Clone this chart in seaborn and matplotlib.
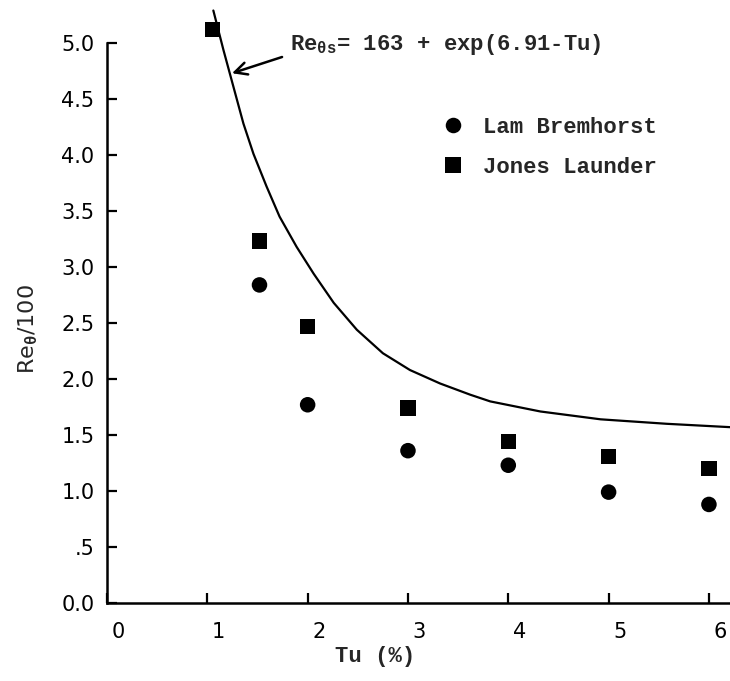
import matplotlib
matplotlib.use("Agg")
import matplotlib.pyplot as plt
import matplotlib.transforms as mtransforms
import seaborn as sns
import pandas as pd

# ---- data ----
lam_tu = [1.52, 2.0, 3.0, 4.0, 5.0, 6.0]
lam_bremhorst = [2.84, 1.77, 1.36, 1.23, 0.99, 0.88]
jones_tu = [1.05, 1.52, 2.0, 3.0, 4.0, 5.0, 6.0]
jones_launder = [5.12, 3.23, 2.47, 1.74, 1.44, 1.31, 1.20]

curve_tu = [1.06, 1.16, 1.26, 1.36, 1.46, 1.59, 1.72, 1.89, 2.06, 2.26, 2.49,
            2.75, 3.02, 3.32, 3.62, 3.82, 4.32, 4.92, 5.58, 6.21]
curve_re = [5.29, 4.94, 4.61, 4.28, 4.01, 3.72, 3.45, 3.18, 2.94, 2.68, 2.44,
            2.23, 2.08, 1.96, 1.86, 1.80, 1.71, 1.64, 1.60, 1.57]

x_ticks = [0, 1, 2, 3, 4, 5, 6]
y_ticks = [0.0, 0.5, 1.0, 1.5, 2.0, 2.5, 3.0, 3.5, 4.0, 4.5, 5.0]
y_tick_labels = ["0.0", ".5", "1.0", "1.5", "2.0", "2.5", "3.0", "3.5", "4.0", "4.5", "5.0"]
formula_text = r"Re$_{\mathbf{\theta s}}$= 163 + exp(6.91-Tu)"

rows = []
for t, v in zip(lam_tu, lam_bremhorst):
    rows.append({"Tu": t, "Re": v, "source": "Lam Bremhorst"})
for t, v in zip(jones_tu, jones_launder):
    rows.append({"Tu": t, "Re": v, "source": "Jones Launder"})
df = pd.DataFrame(rows)
curve_df = pd.DataFrame({"Tu": curve_tu, "Re": curve_re})

sns.set_style("white")
plt.rcParams["font.family"] = ["DejaVu Sans"]
plt.rcParams["mathtext.fontset"] = "custom"
plt.rcParams["mathtext.rm"] = "Liberation Mono:bold"
plt.rcParams["mathtext.it"] = "Liberation Mono:bold"
plt.rcParams["mathtext.bf"] = "Liberation Mono:bold"

fig = plt.figure(figsize=(7.30, 6.81), dpi=100)
ax = fig.add_axes([107 / 730, 78 / 681, (730 - 107) / 730, (603 - 43) / 681])

sns.lineplot(data=curve_df, x="Tu", y="Re", color="black", lw=1.6, ax=ax,
             sort=False, legend=False)
for ln in ax.lines:
    ln.set_clip_on(False)
    ln.set_solid_joinstyle("round")

sns.scatterplot(data=df, x="Tu", y="Re", style="source",
                markers={"Lam Bremhorst": "o", "Jones Launder": "s"},
                style_order=["Lam Bremhorst", "Jones Launder"],
                color="black", s=125, edgecolor="black", linewidth=0, ax=ax,
                clip_on=False)

ax.set_xlim(0, 6.21)
ax.set_ylim(0, 5.0)
ax.set_xticks(x_ticks)
ax.set_xticklabels([str(t) for t in x_ticks])
ax.set_yticks(y_ticks)
ax.set_yticklabels(y_tick_labels)

for sp in ["top", "right"]:
    ax.spines[sp].set_visible(False)
for sp in ["left", "bottom"]:
    ax.spines[sp].set_linewidth(1.8)
    ax.spines[sp].set_color("black")

ax.tick_params(axis="both", which="major", bottom=True, left=True,
               direction="in", length=7, width=1.6, color="black",
               labelsize=15, labelcolor="black")
ax.tick_params(axis="y", pad=9)
ax.tick_params(axis="x", pad=14)
offset = mtransforms.ScaledTranslation(0.11, 0, fig.dpi_scale_trans)
for lbl in ax.get_xticklabels():
    lbl.set_transform(lbl.get_transform() + offset)

ax.set_xlabel("Tu (%)", family="Liberation Mono", weight="bold", fontsize=16)
ax.xaxis.set_label_coords(0.43, -0.077)
ax.set_ylabel(r"Re$_\theta$/100", fontsize=16)
ax.yaxis.set_label_coords(-0.108, 0.49)

# formula label with arrow
ax.text(1.82, 4.99, formula_text, fontsize=16, family="Liberation Mono",
        weight="bold", ha="left", va="center")
ax.annotate("", xy=(1.246, 4.73), xytext=(1.745, 4.875),
            arrowprops=dict(arrowstyle="->", color="black", lw=1.8,
                            mutation_scale=22, shrinkA=0, shrinkB=0),
            annotation_clip=False)

leg = ax.legend(loc="upper left", bbox_to_anchor=(433 / 730, 1 - 108 / 681),
                bbox_transform=fig.transFigure, frameon=False,
                prop={"family": "Liberation Mono", "weight": "bold", "size": 16},
                handletextpad=0.85, labelspacing=0.85, markerscale=1.0,
                handlelength=1.0, borderaxespad=0)
for h in leg.legend_handles:
    h.set_color("black")

fig.savefig("out.png", dpi=100)
